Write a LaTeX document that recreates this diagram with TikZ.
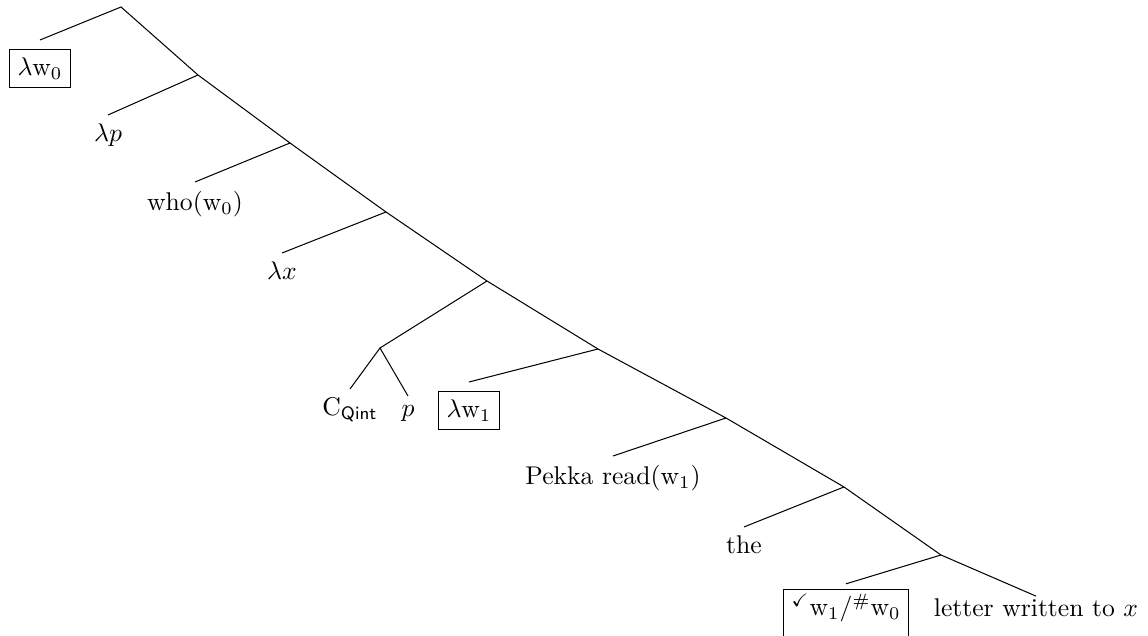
\documentclass[tikz,border=0pt]{standalone}
\usepackage{amsmath, amssymb}
\usepackage{tikz}

\begin{document}
\begin{tikzpicture}[
    x=0.39pt, y=-0.39pt,
    leaf/.style={anchor=north, inner sep=3.33pt},
    br/.style={line width=0.4pt}
]
\useasboundingbox (0,0) rectangle (1148,636);
\coordinate (r0) at (121,7);
\coordinate (r1) at (198,75);
\coordinate (r2) at (290,143);
\coordinate (r3) at (386,212);
\coordinate (r4) at (487,281);
\coordinate (cp) at (380,348);
\coordinate (r5) at (598,349);
\coordinate (r6) at (726,418);
\coordinate (r7) at (844,487);
\coordinate (r8) at (941,555);
\node (lw0) [leaf] at (40,40) {\fbox{$\lambda\mathrm{w}_0$}};
\node (lp) [leaf] at (108,115) {$\lambda p$};
\node (who) [leaf] at (195,182) {who(w$_0$)};
\node (lx) [leaf] at (282,253) {$\lambda x$};
\node (cq) [leaf] at (350,389) {$\mathrm{C}_{\mathsf{Qint}}$};
\node (pv) [leaf] at (408,396) {$p$};
\node (lw1) [leaf] at (469,382) {\fbox{$\lambda\mathrm{w}_1$}};
\node (pekka) [leaf] at (613,456) {Pekka read(w$_1$)};
\node (the) [leaf] at (744,527) {the};
\node (chk) [leaf, anchor=base, inner ysep=2pt] at (846,616)
  {\fbox{\rule[-6pt]{0pt}{1pt}\vphantom{$\lambda$}\smash{$^{\checkmark}\mathrm{w}_1/^{\#}\mathrm{w}_0$}}};
\node (letter) [leaf, anchor=base, inner ysep=1pt] at (1036,617) {letter written to $x$};
\draw[br] (lw0.north) -- (r0) -- (r1) -- (r2) -- (r3) -- (r4) -- (r5) -- (r6) -- (r7) -- (r8) -- (letter.north);
\draw[br] (r1) -- (lp.north);
\draw[br] (r2) -- (who.north);
\draw[br] (r3) -- (lx.north);
\draw[br] (r4) -- (cp);
\draw[br] (cq.north) -- (cp) -- (pv.north);
\draw[br] (r5) -- (lw1.north);
\draw[br] (r6) -- (pekka.north);
\draw[br] (r7) -- (the.north);
\draw[br] (r8) -- (chk.north);
\end{tikzpicture}
\end{document}
